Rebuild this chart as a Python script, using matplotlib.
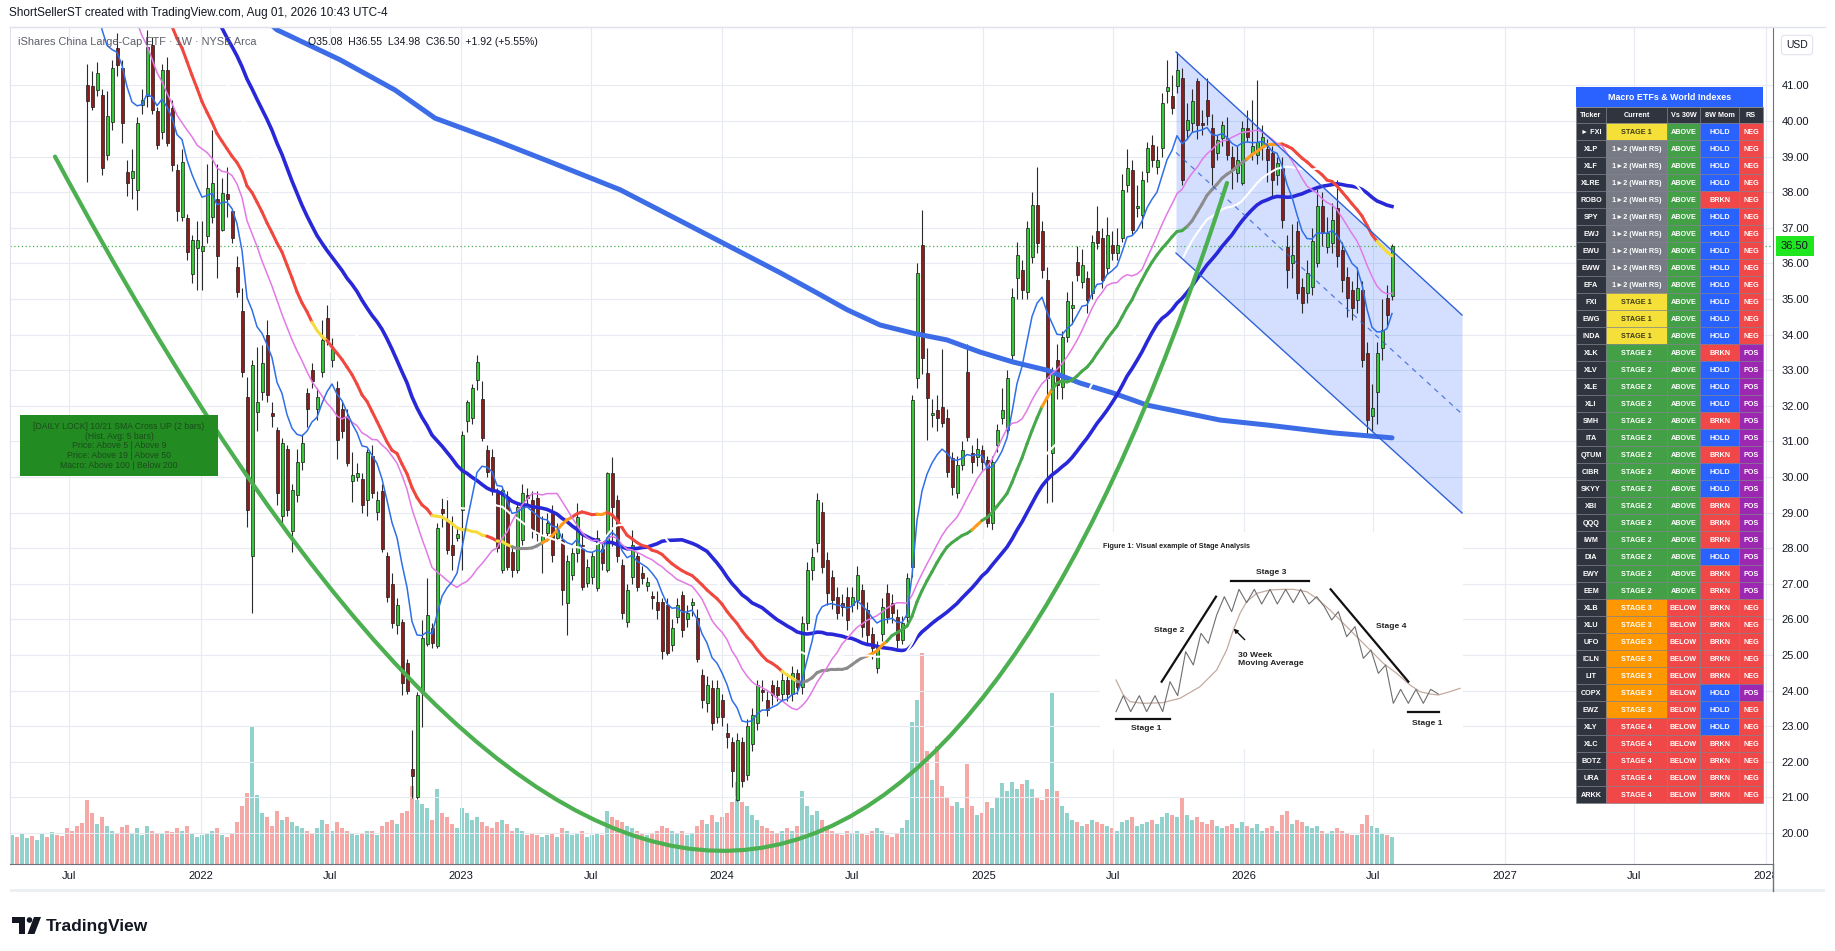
import numpy as np
import pandas as pd
import matplotlib
matplotlib.use("Agg")
import matplotlib.pyplot as plt
import matplotlib.transforms as mtransforms
from matplotlib.collections import LineCollection
from matplotlib.patches import Rectangle, PathPatch, Polygon, Circle
from matplotlib.path import Path

plt.rcParams["font.family"] = ["Liberation Sans", "DejaVu Sans"]

# weekly FXI bars, one per week starting with the week of 2021-04-05
first_week = "2021-04-05"

# closes of the 13 weeks before that, only used to warm up the averages
early_closes = [46.9, 48.6, 50.9, 50.2, 50.5, 52.6, 53.1, 51.4, 49.0, 48.3, 48.1, 46.4, 46.9]

opens = [
    46.3, 46.8, 47.2, 46.5, 47.1, 47.6, 46.9, 47.8, 48.2, 47.5,
    47.9, 47.0, 46.6, 45.8, 44.5, 44.1, 41.0, 40.97, 40.87, 40.73,
    39.05, 39.98, 42.05, 41.48, 38.58, 38.40, 38.07, 40.45, 40.69, 42.14,
    40.27, 39.70, 41.44, 40.36, 38.63, 37.30, 37.27, 35.70, 36.43, 36.35,
    36.76, 37.30, 37.80, 36.94, 37.95, 37.46, 35.90, 34.65, 32.26, 27.77,
    31.84, 32.40, 33.99, 31.80, 31.32, 28.90, 30.80, 28.47, 29.50, 30.43,
    32.35, 33.00, 31.90, 32.96, 34.46, 33.30, 32.50, 31.90, 31.70, 29.90,
    30.00, 29.95, 29.35, 30.60, 29.03, 29.60, 27.77, 27.00, 25.85, 25.94,
    24.77, 21.80, 21.00, 23.93, 25.30, 25.75, 25.24, 29.10, 28.80, 28.10,
    28.30, 29.08, 31.56, 31.65, 32.73, 32.20, 30.76, 30.57, 29.55, 27.39,
    29.45, 27.90, 27.40, 28.23, 29.50, 29.36, 29.40, 28.20, 28.42, 29.00,
    28.30, 28.23, 26.45, 27.25, 27.86, 28.10, 27.02, 27.20, 26.88, 27.99,
    27.39, 30.10, 29.36, 27.53, 25.94, 27.20, 27.77, 27.30, 26.95, 26.65,
    26.50, 26.50, 26.40, 25.28, 26.08, 26.69, 26.00, 26.40, 26.03, 24.44,
    23.65, 24.07, 23.27, 23.74, 22.80, 22.57, 20.93, 22.57, 21.63, 22.50,
    23.08, 24.00, 23.74, 24.16, 24.10, 23.90, 24.30, 23.90, 24.50, 24.10,
    25.89, 27.39, 28.14, 29.03, 27.67, 27.20, 26.64, 26.45, 26.64, 26.41,
    26.55, 26.83, 26.27, 25.60, 24.63, 25.60, 26.73, 26.45, 26.08, 25.42,
    26.08, 27.48, 32.77, 36.52, 32.91, 31.75, 31.88, 31.98, 31.65, 30.53,
    29.54, 30.34, 32.96, 30.67, 30.57, 30.76, 30.48, 28.70, 30.90, 31.65,
    31.32, 33.43, 35.58, 35.82, 35.21, 36.19, 37.64, 36.90, 35.54, 30.67,
    33.29, 32.54, 33.94, 34.75, 36.05, 35.49, 35.58, 35.16, 36.90, 36.71,
    35.86, 36.52, 36.29, 36.71, 38.20, 38.62, 37.55, 37.36, 38.58, 39.33,
    38.72, 39.24, 40.85, 40.69, 40.97, 41.20, 39.75, 39.94, 41.11, 39.95,
    40.60, 39.80, 39.10, 39.52, 39.52, 39.00, 38.53, 38.25, 39.80, 39.10,
    39.05, 39.28, 39.20, 39.10, 38.49, 38.72, 36.47, 36.00, 36.90, 35.35,
    35.16, 35.35, 36.00, 37.60, 36.47, 36.57, 37.55, 36.38, 35.63, 35.26,
    34.98, 35.26, 33.48, 31.70, 32.40, 33.62, 35.02, 35.08,
]

highs = [
    47.3, 47.8, 47.6, 47.6, 48.1, 47.9, 48.3, 48.8, 48.6, 48.4,
    48.3, 47.6, 47.1, 46.2, 45.0, 44.6, 41.60, 41.40, 41.67, 40.90,
    40.83, 41.72, 42.47, 41.70, 38.90, 39.20, 40.10, 40.90, 42.56, 42.37,
    40.40, 41.60, 41.80, 40.60, 38.80, 39.20, 37.40, 36.80, 37.20, 37.20,
    38.80, 39.75, 38.80, 38.40, 38.70, 37.50, 36.20, 35.30, 32.80, 33.30,
    33.66, 33.70, 34.40, 32.10, 31.40, 31.10, 30.90, 29.80, 30.80, 31.20,
    32.50, 33.20, 32.50, 34.40, 34.83, 33.90, 32.70, 32.10, 31.90, 30.70,
    30.40, 30.10, 30.80, 30.90, 29.60, 29.80, 27.90, 27.30, 26.60, 26.00,
    24.90, 22.90, 23.95, 25.99, 27.15, 25.90, 28.70, 29.40, 29.45, 28.90,
    28.60, 31.28, 32.17, 32.60, 33.42, 32.70, 30.90, 30.80, 29.70, 29.70,
    29.60, 28.10, 29.30, 29.80, 29.70, 29.60, 29.60, 28.90, 29.00, 29.20,
    28.70, 28.42, 27.80, 28.00, 29.26, 28.42, 27.70, 27.90, 28.50, 28.20,
    30.15, 30.57, 29.50, 27.70, 27.00, 28.50, 27.90, 27.50, 27.20, 26.80,
    26.80, 26.60, 26.60, 26.00, 26.60, 26.80, 26.40, 26.60, 26.30, 24.60,
    24.40, 24.30, 24.30, 23.90, 23.10, 22.70, 22.80, 22.70, 23.20, 23.50,
    24.30, 24.30, 24.00, 24.30, 24.30, 24.50, 24.50, 24.70, 24.60, 26.10,
    27.60, 28.00, 29.54, 29.30, 27.90, 27.40, 26.90, 26.70, 26.90, 26.90,
    27.50, 27.00, 26.50, 25.80, 25.40, 26.60, 27.00, 26.70, 26.30, 26.10,
    27.30, 32.30, 36.00, 37.50, 33.62, 32.20, 32.30, 33.60, 31.90, 30.70,
    30.60, 31.00, 33.75, 30.90, 31.10, 30.90, 30.60, 30.60, 31.50, 32.50,
    33.00, 35.30, 36.60, 36.10, 37.20, 38.00, 38.72, 37.20, 35.90, 33.10,
    33.75, 34.10, 35.20, 35.50, 36.50, 36.40, 35.80, 36.80, 37.60, 37.00,
    37.30, 36.90, 37.00, 38.50, 39.20, 38.90, 38.20, 38.60, 39.40, 39.60,
    39.30, 40.80, 41.72, 41.30, 41.95, 41.50, 40.50, 40.90, 41.20, 40.30,
    41.20, 40.20, 39.60, 40.00, 40.10, 39.30, 39.30, 40.00, 40.30, 40.60,
    41.16, 39.90, 39.50, 39.30, 39.00, 39.00, 36.80, 37.10, 37.20, 35.60,
    36.10, 37.00, 38.10, 38.00, 37.30, 37.70, 38.35, 36.60, 35.90, 35.50,
    35.90, 35.50, 33.80, 32.60, 33.80, 35.00, 35.40, 36.55,
]

lows = [
    45.9, 46.3, 46.0, 46.1, 46.7, 46.3, 46.5, 47.3, 47.0, 47.1,
    46.6, 46.1, 45.4, 44.1, 43.5, 42.7, 38.30, 40.30, 40.70, 38.49,
    38.90, 39.75, 41.25, 39.38, 37.88, 37.80, 37.50, 40.20, 40.40, 40.20,
    39.20, 39.50, 39.30, 38.60, 37.18, 37.20, 36.10, 35.44, 35.26, 35.26,
    36.57, 37.13, 35.60, 36.90, 37.30, 36.57, 35.07, 32.80, 28.60, 26.17,
    31.28, 32.17, 32.10, 31.40, 29.20, 28.60, 28.90, 27.90, 29.30, 30.20,
    31.40, 32.50, 31.60, 32.80, 33.70, 33.10, 30.50, 31.10, 30.30, 29.30,
    29.90, 29.00, 28.90, 29.40, 28.80, 27.90, 26.50, 25.75, 25.60, 23.88,
    23.90, 20.98, 20.95, 22.99, 25.25, 25.20, 25.20, 28.60, 27.85, 27.40,
    28.20, 27.40, 31.27, 31.50, 32.45, 31.00, 30.00, 29.50, 27.90, 27.30,
    27.40, 27.20, 27.30, 28.10, 29.20, 28.30, 28.20, 27.30, 28.20, 27.60,
    28.20, 26.40, 25.55, 27.10, 27.60, 26.83, 26.90, 27.00, 26.80, 27.40,
    27.34, 28.05, 27.60, 26.00, 25.80, 27.00, 26.80, 27.00, 26.80, 26.30,
    26.00, 24.90, 25.00, 25.10, 25.90, 25.50, 25.80, 26.10, 24.80, 23.50,
    23.40, 22.90, 23.10, 23.00, 22.40, 21.30, 20.90, 21.30, 21.50, 22.30,
    22.90, 23.70, 23.30, 23.60, 23.70, 23.70, 23.70, 23.70, 23.90, 23.90,
    25.70, 27.10, 27.90, 27.30, 26.40, 26.30, 26.00, 26.10, 25.70, 26.20,
    26.30, 25.50, 25.30, 24.90, 24.50, 25.40, 25.90, 25.90, 25.20, 25.30,
    25.90, 27.20, 32.50, 32.90, 31.04, 31.40, 31.30, 31.40, 30.00, 29.50,
    29.40, 30.20, 31.00, 30.10, 30.30, 30.20, 28.60, 28.50, 30.70, 31.50,
    31.20, 33.20, 35.00, 35.00, 35.00, 36.00, 36.30, 35.60, 29.26, 29.30,
    32.20, 32.20, 33.80, 34.30, 35.50, 35.30, 34.60, 35.00, 36.40, 35.30,
    35.70, 36.10, 36.10, 36.60, 38.00, 36.80, 37.30, 37.00, 38.30, 38.70,
    38.50, 39.00, 40.50, 40.20, 40.80, 38.20, 39.50, 39.70, 39.50, 39.60,
    39.90, 38.20, 38.90, 39.30, 38.90, 38.10, 38.30, 38.20, 39.40, 38.90,
    38.80, 38.90, 38.30, 37.90, 38.20, 37.00, 35.30, 35.60, 35.00, 34.60,
    34.90, 35.10, 35.90, 36.50, 36.30, 36.30, 35.90, 35.20, 34.50, 34.40,
    34.60, 33.10, 31.20, 31.30, 31.50, 33.30, 34.20, 34.98,
]

closes = [
    46.8, 47.2, 46.5, 47.1, 47.6, 46.9, 47.8, 48.2, 47.5, 47.9,
    47.0, 46.6, 45.8, 44.5, 44.1, 43.0, 40.55, 40.40, 41.34, 38.67,
    40.13, 41.48, 41.58, 39.94, 38.25, 38.60, 39.94, 40.60, 42.09, 40.31,
    39.33, 41.44, 39.38, 38.77, 37.46, 38.86, 36.33, 36.66, 36.66, 36.50,
    38.11, 38.25, 36.20, 37.97, 37.80, 36.71, 35.21, 32.96, 29.08, 33.15,
    32.10, 33.20, 32.30, 31.70, 29.54, 30.95, 29.08, 29.64, 30.43, 30.95,
    31.90, 32.70, 32.26, 33.85, 33.85, 33.60, 31.04, 31.30, 30.39, 30.05,
    30.10, 29.20, 30.70, 29.55, 29.36, 27.99, 26.64, 25.90, 26.40, 24.20,
    23.98, 21.60, 23.88, 25.47, 26.13, 25.33, 28.56, 28.98, 27.95, 27.80,
    28.40, 31.18, 32.12, 32.50, 33.24, 31.10, 30.15, 29.60, 28.00, 29.64,
    27.48, 27.40, 29.17, 29.54, 29.40, 28.50, 28.40, 28.35, 28.70, 27.80,
    28.50, 26.83, 27.63, 27.86, 28.89, 26.90, 27.48, 27.77, 28.28, 27.58,
    30.10, 29.17, 27.77, 26.17, 26.83, 28.10, 26.92, 27.15, 27.05, 26.60,
    26.27, 25.10, 25.05, 25.75, 26.40, 25.70, 26.17, 26.50, 24.90, 23.74,
    24.16, 23.08, 24.07, 23.27, 22.70, 21.73, 22.60, 21.45, 23.00, 23.32,
    24.16, 23.97, 23.46, 23.88, 23.88, 24.30, 23.90, 24.50, 24.10, 25.90,
    27.39, 27.76, 29.36, 27.48, 26.73, 26.55, 26.17, 26.35, 25.98, 26.64,
    27.25, 25.80, 25.56, 25.20, 25.19, 26.36, 26.08, 26.17, 25.42, 25.89,
    27.15, 32.16, 35.72, 33.34, 32.21, 31.80, 31.65, 31.51, 30.15, 29.73,
    30.34, 30.76, 31.13, 30.43, 30.80, 30.43, 28.70, 30.43, 31.32, 31.88,
    32.77, 35.07, 36.24, 35.25, 36.99, 37.64, 36.57, 35.82, 32.77, 32.91,
    32.59, 33.94, 34.93, 34.83, 35.68, 35.96, 34.97, 36.61, 36.57, 35.54,
    36.80, 36.29, 36.52, 38.06, 38.67, 36.94, 37.62, 38.34, 39.23, 38.90,
    38.90, 40.50, 40.95, 40.36, 41.44, 38.35, 40.03, 40.55, 39.89, 39.90,
    40.13, 38.72, 39.47, 39.89, 39.05, 38.63, 38.91, 39.80, 39.55, 39.30,
    39.42, 39.56, 38.90, 38.35, 38.82, 37.22, 35.82, 36.24, 35.16, 34.88,
    35.72, 36.62, 37.60, 36.85, 36.85, 37.22, 36.20, 35.54, 35.02, 34.74,
    35.30, 33.29, 31.60, 31.93, 33.48, 34.13, 34.55, 36.50,
]

# weekly volume, millions of shares
volumes = [
    150, 130, 120, 140, 115, 125, 110, 135, 120, 145,
    130, 125, 160, 150, 170, 185, 290, 230, 180, 210,
    170, 150, 140, 165, 175, 140, 160, 130, 170, 150,
    140, 135, 150, 145, 160, 150, 170, 140, 120, 130,
    140, 150, 160, 130, 120, 140, 190, 260, 320, 620,
    310, 230, 210, 170, 240, 200, 210, 190, 170, 160,
    150, 140, 160, 200, 180, 150, 190, 160, 150, 140,
    130, 140, 150, 150, 130, 170, 190, 200, 180, 230,
    240, 350, 290, 270, 250, 200, 340, 230, 210, 180,
    160, 250, 230, 200, 210, 190, 170, 160, 190, 200,
    180, 150, 160, 150, 130, 140, 130, 120, 130, 140,
    120, 160, 150, 130, 140, 150, 120, 130, 140, 130,
    240, 210, 200, 190, 170, 160, 150, 140, 130, 140,
    150, 170, 160, 150, 140, 150, 130, 140, 170, 200,
    180, 220, 190, 210, 230, 280, 370, 280, 260, 220,
    200, 170, 160, 150, 140, 150, 160, 150, 170, 330,
    260, 220, 240, 200, 170, 150, 140, 130, 150, 140,
    150, 140, 130, 150, 160, 150, 130, 120, 140, 160,
    200, 640, 740, 950, 510, 380, 530, 350, 300, 260,
    280, 250, 450, 260, 220, 230, 280, 250, 300, 365,
    330, 370, 340, 360, 380, 340, 300, 290, 340, 770,
    330, 260, 230, 200, 190, 170, 180, 200, 190, 180,
    170, 160, 150, 190, 200, 210, 170, 180, 190, 200,
    180, 210, 230, 220, 210, 300, 220, 200, 210, 190,
    180, 200, 170, 160, 170, 180, 160, 190, 170, 160,
    180, 150, 160, 170, 150, 220, 240, 180, 200, 190,
    170, 160, 170, 150, 140, 150, 160, 150, 140, 130,
    130, 180, 220, 170, 160, 140, 130, 120,
]

# long moving average (thick blue): week index / price
ma200_week = [40, 54, 66.6, 77.6, 85.6, 97.4, 109.2, 122.6, 134.6, 144.6, 154.6, 162, 168,
              174.6, 181.2, 188, 194.6, 201.2, 208, 214.6, 221.2, 228, 234.6, 242.6, 252, 265.2, 277]
ma200_price = [44.3, 42.56, 41.72, 40.87, 40.08, 39.47, 38.82, 38.07, 37.2, 36.47, 35.74, 35.17, 34.7,
               34.27, 34.04, 33.85, 33.51, 33.23, 33.0, 32.64, 32.36, 32.02, 31.83, 31.6, 31.46, 31.24, 31.1]

# 30 week average colour by stage (first week of each stretch)
stage_start_week = [29, 62, 65, 86, 97, 99, 102, 108, 114, 119, 121, 156, 159, 173, 177,
                    194, 196, 208, 210, 237, 249, 256, 275]
stage_of_stretch = ["4", "1", "4", "1", "4", "1", "wait", "3", "4", "3", "4", "1", "wait", "3", "2",
                    "3", "2", "3", "2", "wait", "3", "4", "1"]
stage_colours = {"1": "#f5dc3a", "wait": "#8c8c8c", "2": "#46a84a", "3": "#ff9a1a", "4": "#f0483e"}

# drawings: cup arc (start, bottom, end) and falling channel
arc_week = [9.6, 142.0, 244.0]
arc_price = [39.0, 19.5, 38.26]
channel_week = [233.8, 291.0]
channel_upper = [41.94, 34.55]
channel_lower = [36.29, 28.99]

tick_dates = ["2021-07-01", "2022-01-01", "2022-07-01", "2023-01-01", "2023-07-01", "2024-01-01",
              "2024-07-01", "2025-01-01", "2025-07-01", "2026-01-01", "2026-07-01", "2027-01-01",
              "2027-07-01", "2028-01-01"]
tick_labels = ["Jul", "2022", "Jul", "2023", "Jul", "2024", "Jul", "2025", "Jul", "2026", "Jul",
               "2027", "Jul", "2028"]

# side table
tickers = ["► FXI", "XLP", "XLF", "XLRE", "ROBO", "SPY", "EWJ", "EWU", "EWW", "EFA", "FXI", "EWG",
           "INDA", "XLK", "XLV", "XLE", "XLI", "SMH", "ITA", "QTUM", "CIBR", "SKYY", "XBI", "QQQ",
           "IWM", "DIA", "EWY", "EEM", "XLB", "XLU", "UFO", "ICLN", "LIT", "COPX", "EWZ", "XLY",
           "XLC", "BOTZ", "URA", "ARKK"]
current_stage = (["STAGE 1"] + ["1►2 (Wait RS)"] * 9 + ["STAGE 1"] * 3 + ["STAGE 2"] * 15
                 + ["STAGE 3"] * 7 + ["STAGE 4"] * 5)
vs_30w = ["ABOVE"] * 28 + ["BELOW"] * 12
mom_8w = ["HOLD", "HOLD", "HOLD", "HOLD", "BRKN", "HOLD", "HOLD", "HOLD", "HOLD", "HOLD",
          "HOLD", "HOLD", "HOLD", "BRKN", "HOLD", "HOLD", "HOLD", "BRKN", "HOLD", "BRKN",
          "HOLD", "HOLD", "BRKN", "BRKN", "BRKN", "HOLD", "BRKN", "BRKN", "BRKN", "BRKN",
          "BRKN", "BRKN", "BRKN", "HOLD", "HOLD", "HOLD", "BRKN", "BRKN", "BRKN", "BRKN"]
rel_strength = (["NEG"] * 13 + ["POS"] * 15 + ["NEG"] * 5 + ["POS"] + ["NEG"] * 6)

# stage analysis sketch (picture units)
sketch_price_x = [78, 100, 122, 148, 170, 195, 218, 240, 263, 287, 310, 333, 355, 380, 403, 425, 447,
                  470, 493, 515, 540, 562, 587, 610, 632, 657, 680, 703, 725, 745, 770, 795, 820, 843,
                  865, 887, 910, 932, 955, 978, 1000, 1022, 1045]
sketch_price_y = [545, 497, 545, 497, 545, 497, 545, 455, 497, 365, 405, 310, 340, 255, 200, 245, 178,
                  218, 178, 222, 178, 222, 178, 218, 178, 222, 200, 230, 270, 245, 320, 290, 385, 360,
                  430, 405, 520, 478, 520, 478, 520, 478, 492]
sketch_ma_x = [78, 100, 120, 160, 218, 270, 330, 380, 410, 430, 450, 470, 500, 540, 580, 610, 650, 680,
               720, 760, 800, 840, 880, 920, 960, 990, 1020, 1045, 1080, 1110]
sketch_ma_y = [450, 495, 515, 520, 518, 505, 470, 420, 360, 300, 250, 215, 190, 180, 178, 178, 185, 205,
               240, 280, 320, 360, 400, 430, 465, 485, 492, 495, 485, 475]

n = len(closes)
assert all(len(v) == n for v in (opens, highs, lows, volumes))

W, H = 1835, 951
fig = plt.figure(figsize=(W / 100, H / 100), dpi=100)
fig.patch.set_facecolor("white")

ax = fig.add_axes([10 / W, 1 - 864 / H, 1763 / W, 837 / H])
axv = ax.twinx()
axv.set_zorder(1)
ax.set_zorder(2)
ax.patch.set_visible(False)

idx = np.arange(n)
o = np.array(opens)
c = np.array(closes)
hi = np.array(highs)
lo = np.array(lows)
up = c >= o

# volume
axv.bar(idx, volumes, width=0.75, color=np.where(up, "#26a69a", "#ef5350"), alpha=0.5, linewidth=0)
axv.set_ylim(0, 3770)
axv.set_yticks([])
for sp in axv.spines.values():
    sp.set_visible(False)

# candles
ax.vlines(idx, lo, hi, color="#2a2a2a", lw=0.8, zorder=3)
ax.bar(idx, np.maximum(np.abs(c - o), 0.04), bottom=np.minimum(o, c), width=0.6,
       color=np.where(up, "#37c837", "#8b1d1d"), edgecolor="#1c1c1c", linewidth=0.5, zorder=3.2)

# moving averages (warm-up weeks dropped afterwards)
k = len(early_closes)
s = pd.Series(early_closes + closes)
ema10 = s.ewm(span=10, adjust=False).mean().iloc[k:].to_numpy()
sma20 = s.rolling(20).mean().iloc[k:].to_numpy()
sma30 = s.rolling(30).mean().iloc[k:].to_numpy()
sma40 = s.rolling(40).mean().iloc[k:].to_numpy()
sma50 = s.rolling(50, min_periods=40).mean().iloc[k:].to_numpy()

ax.plot(ma200_week, ma200_price, color="#3c6de6", lw=3.6, solid_capstyle="round", zorder=4.0)
ax.plot(idx, sma50, color="#2828d8", lw=2.6, zorder=4.05)

stage_at = np.empty(n, dtype=object)
for start, kind in zip(stage_start_week, stage_of_stretch):
    stage_at[start:] = kind
pts = np.column_stack([idx, sma30])
first = stage_start_week[0]
segs = [pts[i:i + 2] for i in range(first, n - 1)]
seg_cols = [stage_colours[stage_at[i + 1]] for i in range(first, n - 1)]
ax.add_collection(LineCollection(segs, colors=seg_cols, linewidths=2.2, capstyle="round", zorder=4.1))

ax.plot(idx, sma40, color="white", lw=1.5, zorder=4.15)
ax.plot(idx, sma20, color="#e27ae6", lw=1.1, zorder=4.2)
ax.plot(idx, ema10, color="#2f6fe8", lw=1.1, zorder=4.25)

# channel
ax.fill_between(channel_week, channel_lower, channel_upper, color="#2962ff", alpha=0.2, lw=0, zorder=2)
ax.plot(channel_week, channel_upper, color="#2f62d8", lw=1.0, zorder=5)
ax.plot(channel_week, channel_lower, color="#2f62d8", lw=1.0, zorder=5)
mid = [(a + b) / 2 for a, b in zip(channel_upper, channel_lower)]
ax.plot(channel_week, mid, color="#2f62d8", lw=0.9, ls=(0, (4, 4)), alpha=0.8, zorder=5)

# cup arc as a quadratic curve through start, bottom and end
ctrl = (2 * arc_week[1] - (arc_week[0] + arc_week[2]) / 2,
        2 * arc_price[1] - (arc_price[0] + arc_price[2]) / 2)
arc_path = Path([(arc_week[0], arc_price[0]), ctrl, (arc_week[2], arc_price[2])],
                [Path.MOVETO, Path.CURVE3, Path.CURVE3])
ax.add_patch(PathPatch(arc_path, fill=False, edgecolor="#4caf50", lw=3.0, zorder=5,
                       capstyle="round"))

# last price line and label
ax.axhline(closes[-1], color="#4caf50", lw=0.9, ls=(0, (1, 2)), zorder=2.5)
trans = mtransforms.blended_transform_factory(ax.transAxes, ax.transData)
ax.text(1.0 + 8 / 1763, closes[-1], f"{closes[-1]:.2f}", transform=trans, ha="left", va="center",
        fontsize=8, color="#131722", clip_on=False, zorder=20,
        bbox=dict(boxstyle="square,pad=0.45", fc="#1fe61f", ec="none"))

# axes styling
start = pd.Timestamp(first_week)
tick_pos = [(pd.Timestamp(d) - start).days / 7 for d in tick_dates]
ax.set_xlim(0.6, 353.2)
ax.set_ylim(19.13, 42.64)
ax.set_xticks(tick_pos)
ax.set_xticklabels(tick_labels)
ax.set_yticks(np.arange(20, 42))
ax.yaxis.set_major_formatter("{x:.2f}")
ax.yaxis.tick_right()
ax.tick_params(axis="y", length=0, pad=6, labelsize=8, labelcolor="#131722")
ax.tick_params(axis="x", length=0, pad=5, labelsize=8, labelcolor="#131722")
ax.grid(color="#e8ebf1", lw=0.8)
ax.set_axisbelow(True)
ax.spines["top"].set_color("#e0e3eb")
ax.spines["left"].set_color("#e0e3eb")
ax.spines["right"].set_color("#6f717a")
ax.spines["bottom"].set_color("#6f717a")

# overlay in pixel units
ov = fig.add_axes([0, 0, 1, 1], zorder=10)
ov.set_xlim(0, W)
ov.set_ylim(H, 0)
ov.axis("off")
ov.patch.set_visible(False)

ov.add_patch(Rectangle((1774, 865), 61, 24, fc="white", ec="none"))
ov.plot([1773, 1773], [864, 891], color="#6f717a", lw=1)
ov.plot([10, 1825], [27, 27], color="#e0e3eb", lw=1)
ov.add_patch(Rectangle((10, 889), 1815, 3, fc="#eceff3", ec="none"))

ov.text(9, 13, "ShortSellerST created with TradingView.com, Aug 01, 2026 10:43 UTC-4",
        fontsize=8.5, color="#131722", va="center", ha="left")
ov.text(18, 42, "iShares China Large-Cap ETF · 1W · NYSE Arca", fontsize=7.9, color="#5d606b",
        va="center", ha="left")
ov.text(308, 42, "O35.08  H36.55  L34.98  C36.50  +1.92 (+5.55%)", fontsize=7.6, color="#131722",
        va="center", ha="left")
ov.text(1797, 45, "USD", fontsize=7.5, color="#131722", va="center", ha="center",
        bbox=dict(boxstyle="round,pad=0.45,rounding_size=0.3", fc="white", ec="#e0e3eb", lw=0.8))

# alert box
ov.add_patch(Rectangle((20, 415), 198, 61, fc="#228b22", ec="none"))
ov.text(119, 446, "[DAILY LOCK] 10/21 SMA Cross UP (2 bars)\n(Hist. Avg: 5 bars)\n"
        "Price: Above 5 | Above 9\nPrice: Above 19 | Above 50\nMacro: Above 100 | Below 200",
        fontsize=6.2, color="#1b4d1b", ha="center", va="center", linespacing=1.12)

# TradingView logo
ov.add_patch(Polygon([(12, 917), (25, 917), (25, 934), (19, 934), (19, 922.5), (12, 922.5)],
                     closed=True, fc="#131722", ec="none"))
ov.add_patch(Circle((29.5, 920), 2.8, fc="#131722", ec="none"))
ov.add_patch(Polygon([(34, 917), (41, 917), (34.5, 934), (27.5, 934)], closed=True,
                     fc="#131722", ec="none"))
ov.text(46, 926, "TradingView", fontsize=12.5, fontweight="bold", color="#131722",
        va="center", ha="left")

# macro table
col_edges = [1576, 1606, 1667, 1700, 1739, 1763]
header = ["Ticker", "Current", "Vs 30W", "8W Mom", "RS"]
cell_bg = {"STAGE 1": "#f5e03a", "1►2 (Wait RS)": "#787b86", "STAGE 2": "#43a047",
           "STAGE 3": "#ff9800", "STAGE 4": "#f04848", "ABOVE": "#43a047", "BELOW": "#f04848",
           "HOLD": "#2962ff", "BRKN": "#f04848", "POS": "#9c27b0", "NEG": "#f04848"}
ov.add_patch(Rectangle((1576, 87), 187, 20, fc="#2962ff", ec="none"))
ov.text(1669.5, 97.3, "Macro ETFs & World Indexes", fontsize=6.4, fontweight="bold", color="white",
        ha="center", va="center")
row_h = 17.0
top = 107.0
for j, name in enumerate(header):
    x0, x1 = col_edges[j], col_edges[j + 1]
    ov.add_patch(Rectangle((x0, top), x1 - x0, 16.3, fc="#30343f", ec="#787b86", lw=0.4))
    ov.text((x0 + x1) / 2, top + 8.4, name, fontsize=5.2, fontweight="bold", color="white",
            ha="center", va="center")
y0 = top + 16.3
for i in range(len(tickers)):
    row = [tickers[i], current_stage[i], vs_30w[i], mom_8w[i], rel_strength[i]]
    for j, val in enumerate(row):
        x0, x1 = col_edges[j], col_edges[j + 1]
        bg = "#30343f" if j == 0 else cell_bg[val]
        fg = "#3a3a1a" if val == "STAGE 1" else "white"
        ov.add_patch(Rectangle((x0, y0 + i * row_h), x1 - x0, row_h, fc=bg, ec="#787b86", lw=0.4))
        ov.text((x0 + x1) / 2, y0 + i * row_h + row_h / 2 + 0.3, val, fontsize=5.2,
                fontweight="bold", color=fg, ha="center", va="center")

# stage analysis figure
ax_in = fig.add_axes([1100 / W, 1 - 749 / H, 363 / W, 217 / H], zorder=11)
ax_in.set_xlim(30, 1119)
ax_in.set_ylim(657, 6)
ax_in.axis("off")
ax_in.add_patch(Rectangle((30, 6), 1089, 651, fc="white", ec="none", zorder=0))
ax_in.plot(sketch_ma_x, sketch_ma_y, color="#c4aaa0", lw=0.9, zorder=1)
ax_in.plot(sketch_price_x, sketch_price_y, color="#6e6e6e", lw=0.8, zorder=2)
for (xa, ya), (xb, yb) in [((78, 566), (240, 566)), ((215, 455), (378, 200)),
                           ((423, 153), (658, 153)), ((722, 178), (955, 455)),
                           ((953, 545), (1048, 545))]:
    ax_in.plot([xa, xb], [ya, yb], color="#111111", lw=1.6, zorder=3)
for xt, yt, label in [(168, 596, "Stage 1"), (237, 303, "Stage 2"), (545, 128, "Stage 3"),
                      (905, 288, "Stage 4"), (1013, 580, "Stage 1")]:
    ax_in.text(xt, yt, label, fontsize=6.1, fontweight="semibold", color="#222222",
               ha="center", va="center")
ax_in.text(445, 388, "30 Week\nMoving Average", fontsize=6.1, fontweight="semibold",
           color="#222222", ha="left", va="center", linespacing=1.3)
ax_in.annotate("", xy=(425, 290), xytext=(470, 335),
               arrowprops=dict(arrowstyle="-|>", color="#111111", lw=1.0, mutation_scale=6))
ax_in.text(40, 48, "Figure 1: Visual example of Stage Analysis", fontsize=5.2, fontweight="bold",
           color="#222222", ha="left", va="center")

fig.savefig("out.png", dpi=100, facecolor="white")
